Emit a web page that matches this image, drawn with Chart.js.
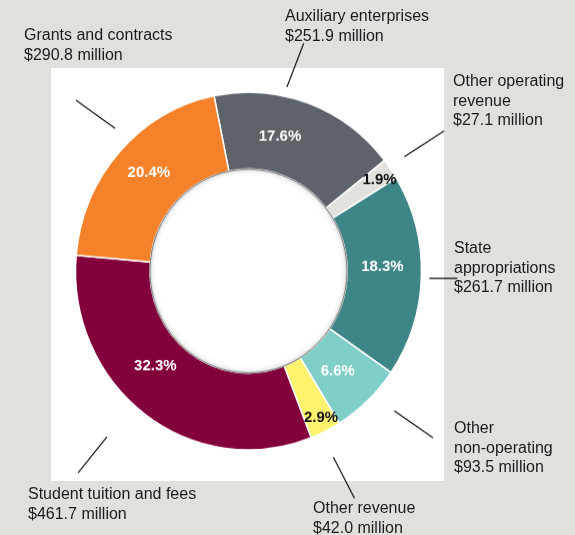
<!DOCTYPE html>
<html>
<head>
<meta charset="utf-8">
<script src="https://cdn.jsdelivr.net/npm/chart.js@4.4.1/dist/chart.umd.min.js"></script>
<style>
  html, body { margin: 0; padding: 0; width: 575px; height: 535px; overflow: hidden; background: #e2e0dc; font-family: Arial, "Liberation Sans", sans-serif; }
  #panel { position: absolute; left: 51px; top: 68px; width: 393px; height: 413px; background: #fff; }
  #revCanv { position: absolute; left: 0; top: 0; transform: scaleY(1.034); transform-origin: 0 271px; }
  .lbl { position: absolute; font-size: 16px; line-height: 19.5px; color: #1b1b1b; white-space: pre; }
</style>
</head>
<body>
<div id="panel"></div>
<canvas id="revCanv" width="575" height="535"></canvas>
<div id="labels"></div>
<script>
// revenue sources, clockwise from the top
const categories = [
  ["Auxiliary enterprises"],
  ["Other operating", "revenue"],
  ["State", "appropriations"],
  ["Other", "non-operating"],
  ["Other revenue"],
  ["Student tuition and fees"],
  ["Grants and contracts"]
];
const amounts = [251.9, 27.1, 261.7, 93.5, 42.0, 461.7, 290.8]; // $ million
const shares = [17.6, 1.9, 18.3, 6.6, 2.9, 32.3, 20.4];        // % of total

const colors = ["#5e636a", "#e3e1dc", "#3d8587", "#7fcec7", "#fff36d", "#82003c", "#f5822a"];
const pctColors = ["#fff", "#111", "#fff", "#fff", "#111", "#fff", "#fff"];

// [angle nudge (deg), radius] for the % labels
const pctPos = [[-6.6, 134], [0.8, 158], [-3.4, 134], [1.0, 132], [-0.7, 159], [8.4, 131], [2.0, 138]];
// leader lines: [angle nudge, r start, angle nudge, r end]
const leaderPos = [
  [-8.0, 182, -6.1, 227], [-0.6, 191, 0, 238], [0.6, 181, 0.3, 209], [-3.6, 199, -5.3, 245],
  [1.2, 199, 0.7, 244], [4.5, 214, 4.2, 259], [4.2, 192, 2.0, 239]
];
// outer label boxes [left, top]
const labelBox = [[285, 6], [453, 71], [454, 238], [454, 418], [313, 498], [28, 484], [24, 25]];

const deg = Math.PI / 180;

const ringDeco = {
  id: "ringDeco",
  afterDatasetsDraw(chart) {
    const ctx = chart.ctx;
    const arcs = chart.getDatasetMeta(0).data;
    const { x, y, innerRadius } = arcs[0].getProps(["x", "y", "innerRadius"], true);

    // soft shadow inside the centre hole
    ctx.save();
    const g = ctx.createRadialGradient(x, y, innerRadius - 7, x, y, innerRadius);
    g.addColorStop(0, "rgba(0,0,0,0)");
    g.addColorStop(0.6, "rgba(0,0,0,0.04)");
    g.addColorStop(1, "rgba(0,0,0,0.2)");
    ctx.beginPath();
    ctx.arc(x, y, innerRadius, 0, Math.PI * 2);
    ctx.fillStyle = g;
    ctx.fill();
    ctx.lineWidth = 0.9;
    ctx.strokeStyle = "#707070";
    ctx.stroke();

    ctx.font = "bold 15px Arial, 'Liberation Sans', sans-serif";
    ctx.textAlign = "center";
    ctx.textBaseline = "middle";
    arcs.forEach((arc, i) => {
      const { startAngle, endAngle } = arc.getProps(["startAngle", "endAngle"], true);
      const mid = (startAngle + endAngle) / 2;

      const a = mid + pctPos[i][0] * deg, r = pctPos[i][1];
      ctx.fillStyle = pctColors[i];
      ctx.fillText(shares[i].toFixed(1) + "%", x + r * Math.cos(a), y + r * Math.sin(a));

      const [d0, r0, d1, r1] = leaderPos[i];
      const a0 = mid + d0 * deg, a1 = mid + d1 * deg;
      ctx.beginPath();
      ctx.moveTo(x + r0 * Math.cos(a0), y + r0 * Math.sin(a0));
      ctx.lineTo(x + r1 * Math.cos(a1), y + r1 * Math.sin(a1));
      ctx.lineWidth = 1.2;
      ctx.strokeStyle = "#111";
      ctx.stroke();
    });
    ctx.restore();
  }
};

new Chart(document.getElementById("revCanv"), {
  type: "doughnut",
  data: {
    labels: categories,
    datasets: [{
      data: shares,
      backgroundColor: colors,
      borderColor: "#fff",
      borderWidth: 1.5,
      hoverOffset: 0
    }]
  },
  options: {
    responsive: false,
    animation: false,
    events: [],
    rotation: -11.5,
    radius: 173,
    cutout: "57%",
    layout: { padding: { left: 0, right: 78, top: 7, bottom: 0 } },
    plugins: {
      legend: { display: false },
      tooltip: { enabled: false }
    }
  },
  plugins: [ringDeco]
});

const holder = document.getElementById("labels");
categories.forEach((lines, i) => {
  const d = document.createElement("div");
  d.className = "lbl";
  d.style.left = labelBox[i][0] + "px";
  d.style.top = labelBox[i][1] + "px";
  d.textContent = lines.join("\n") + "\n$" + amounts[i].toFixed(1) + " million";
  holder.appendChild(d);
});
</script>
</body>
</html>
